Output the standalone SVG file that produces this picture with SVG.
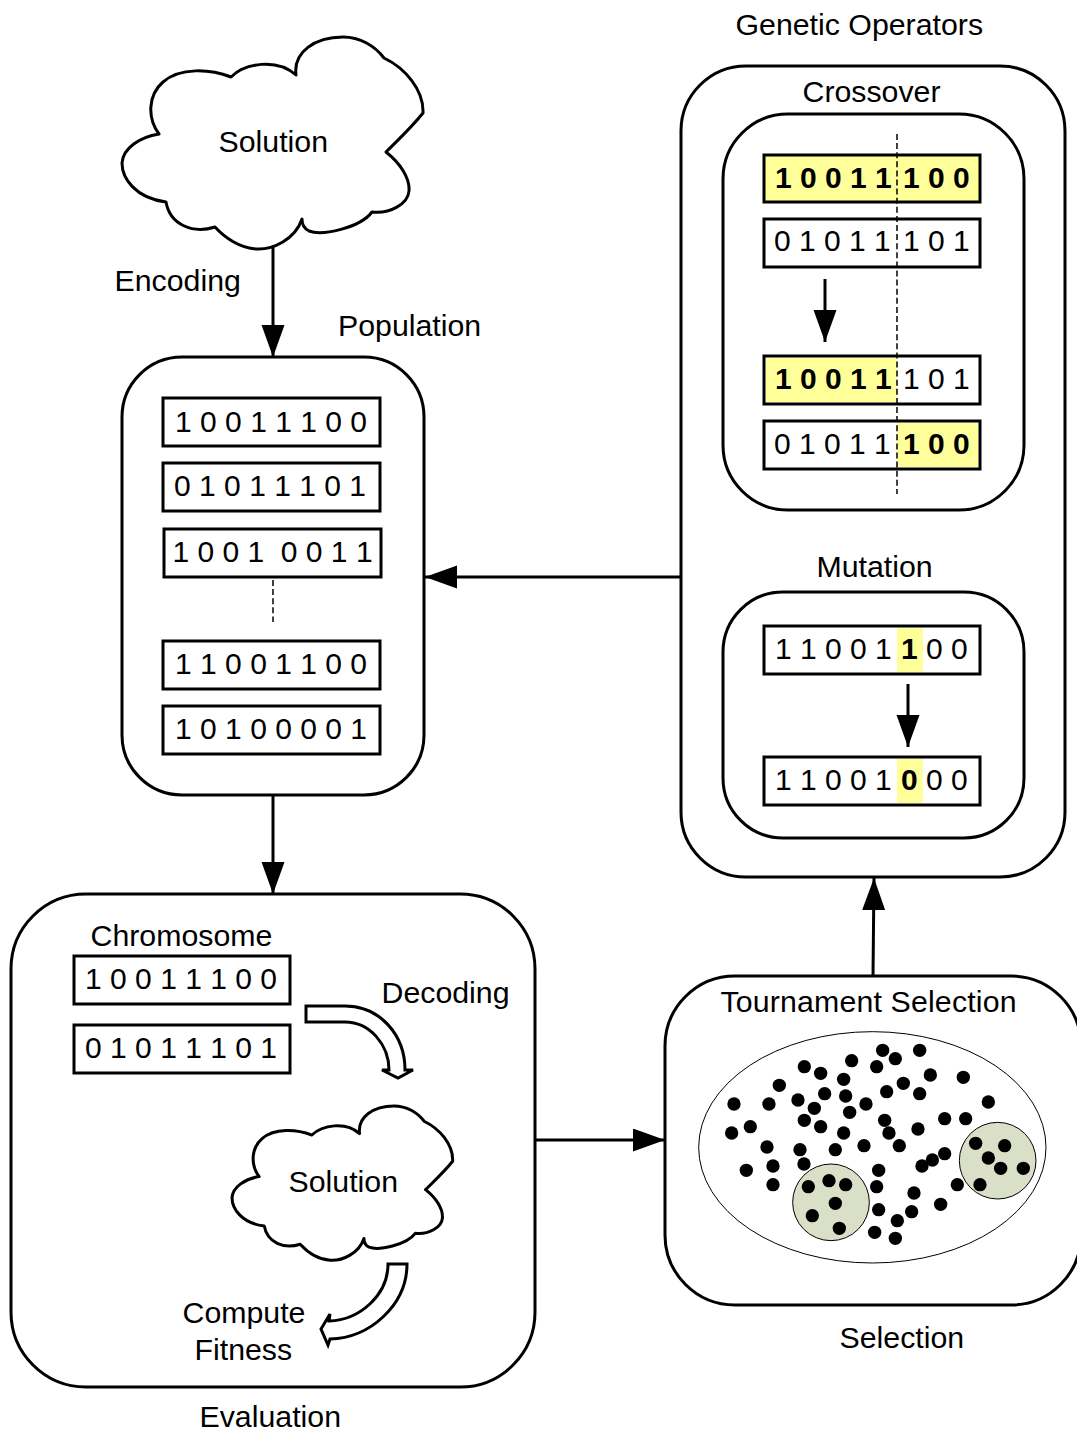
<svg xmlns="http://www.w3.org/2000/svg" width="1077" height="1434" viewBox="0 0 1077 1434">
<style>
text{font-family:"Liberation Sans",Arial,sans-serif;font-size:30px;fill:#000;white-space:pre}
.l{font-size:30.300px}
.b{font-weight:bold}
.c{text-anchor:middle}
.panel{fill:#fff;stroke:#000;stroke-width:3}
.box{fill:#fff;stroke:#000;stroke-width:3}
.hl{fill:#ffff99}
.cloud{fill:#fff;stroke:#000;stroke-width:3;stroke-linejoin:round}
.block{fill:#fff;stroke:#000;stroke-width:3;stroke-linejoin:miter}
.dash{stroke:#000;stroke-width:1.500;stroke-dasharray:6 3.100;fill:none}
.arrow{stroke:#000;stroke-width:3;fill:none;marker-end:url(#head)}
.dot{fill:#000}
.pick{fill:#dadfc8;stroke:#000;stroke-width:3}
</style>
<defs>
<marker id="head" markerUnits="userSpaceOnUse" markerWidth="34" markerHeight="26" refX="32" refY="11.500" orient="auto"><path d="M0,0L32,11.500L0,23Z" fill="#000"/></marker>
<path id="cloudShape" d="M231,77C245,63 277,58 296,75C293,52 315,37 343,37C360,37 375,46 384,58C405,68 424,90 423,113C411,128 398,140 386,152C400,163 410,178 409,191C408,204 390,214 372,212C360,228 322,236 309,231C303,228 302,224 302,219C295,240 272,250 256,249C240,248 225,238 215,227C193,234 170,225 166,202C135,198 122,178 122,163C123,148 140,137 159,134C147,118 148,95 163,82C180,67 210,69 231,77Z"/>
</defs>

<g id="connectors">
<path class="arrow" d="M273,247V357"/>
<path class="arrow" d="M273,795V894"/>
<path class="arrow" d="M681,577H425"/>
<path class="arrow" d="M533,1140H665"/>
<path class="arrow" d="M873,976L874,878"/>
</g>

<g id="solution-cloud">
<use href="#cloudShape" class="cloud"/>
<text class="l" x="218.500" y="152">Solution</text>
</g>
<text class="l" x="114.500" y="291">Encoding</text>

<g id="population">
<rect class="panel" x="122" y="357" width="302" height="438" rx="60"/>
<text class="l" x="338" y="336">Population</text>
<rect class="box" x="163" y="398" width="217" height="48"/><text class="c" x="271" y="432">1 0 0 1 1 1 0 0</text>
<rect class="box" x="163" y="463" width="217" height="48"/><text class="c" x="270" y="496">0 1 0 1 1 1 0 1</text>
<rect class="box" x="164" y="529" width="217" height="48"/><text class="c" x="272.500" y="562">1 0 0 1  0 0 1 1</text>
<path class="dash" d="M273,580V622"/>
<rect class="box" x="163" y="641" width="217" height="48"/><text class="c" x="271" y="674">1 1 0 0 1 1 0 0</text>
<rect class="box" x="163" y="706" width="217" height="48"/><text class="c" x="271" y="739">1 0 1 0 0 0 0 1</text>
</g>

<g id="evaluation">
<rect class="panel" x="11" y="894" width="524" height="493" rx="75"/>
<text class="l" x="90.500" y="946">Chromosome</text>
<rect class="box" x="74" y="956" width="216" height="48"/><text class="c" x="181" y="989">1 0 0 1 1 1 0 0</text>
<rect class="box" x="74" y="1025" width="216" height="48"/><text class="c" x="181" y="1058">0 1 0 1 1 1 0 1</text>
<text class="l" x="381.500" y="1003">Decoding</text>
<path class="block" d="M306,1006L345,1006C380,1006 405,1035 405,1070L413,1070L398,1078L382,1070L389,1070C389,1045 370,1022 345,1022L306,1022Z"/>
<g transform="translate(142.600,1079) scale(.733,.728)"><use href="#cloudShape" class="cloud" style="stroke-width:4.100"/></g>
<text class="l" x="288.500" y="1192">Solution</text>
<path class="block" d="M388,1264L407,1264C407,1305 370,1338 330,1339L328,1345L321,1329L330,1314L329,1321C360,1320 388,1295 388,1264Z"/>
<text class="l" x="182.500" y="1323">Compute</text>
<text class="l" x="194.500" y="1360">Fitness</text>
</g>
<text class="l" x="199.500" y="1427">Evaluation</text>

<g id="genetic-operators">
<text class="l" x="735.500" y="35">Genetic Operators</text>
<rect class="panel" x="681" y="66" width="384" height="811" rx="65"/>
</g>

<g id="crossover">
<text class="l" x="802.500" y="102">Crossover</text>
<rect class="panel" x="723" y="114" width="301" height="396" rx="65"/>
<rect class="box hl" x="764" y="155" width="216" height="47"/>
<text class="b" x="775" y="188">1 0 0 1 1</text><text class="b" x="903" y="188">1 0 0</text>
<rect class="box" x="764" y="219" width="216" height="48"/>
<text x="774" y="251">0 1 0 1 1</text><text x="903" y="251">1 0 1</text>
<path class="arrow" d="M825,279V342"/>
<rect class="box" x="764" y="356" width="216" height="48"/>
<rect class="hl" x="766" y="358" width="131" height="44"/>
<text class="b" x="775" y="389">1 0 0 1 1</text><text x="903" y="389">1 0 1</text>
<rect class="box" x="764" y="421" width="216" height="48"/>
<rect class="hl" x="897" y="423" width="81" height="44"/>
<text x="774" y="454">0 1 0 1 1</text><text class="b" x="903" y="454">1 0 0</text>
<path class="dash" d="M897,134V494"/>
</g>

<g id="mutation">
<text class="l" x="816.500" y="577">Mutation</text>
<rect class="panel" x="723" y="592" width="301" height="246" rx="60"/>
<rect class="box" x="764" y="626" width="216" height="48"/>
<rect class="hl" x="897" y="628" width="26" height="44"/>
<text x="775" y="659">1 1 0 0 1</text><text class="b" x="901" y="659">1</text><text x="926" y="659">0 0</text>
<path class="arrow" d="M908,684V747"/>
<rect class="box" x="764" y="757" width="216" height="48"/>
<rect class="hl" x="897" y="759" width="26" height="44"/>
<text x="775" y="790">1 1 0 0 1</text><text class="b" x="901" y="790">0</text><text x="926" y="790">0 0</text>
</g>

<g id="selection">
<rect class="panel" x="665" y="976" width="416" height="329" rx="70"/>
<text class="l" x="720.500" y="1012" textLength="296">Tournament Selection</text>
<g transform="translate(680,1020) scale(.33333)">
<ellipse cx="577" cy="382" rx="521" ry="347" fill="#fff" stroke="#000" stroke-width="3"/>
<circle class="pick" cx="453" cy="547" r="115"/>
<circle class="pick" cx="953" cy="422" r="115"/>
<g class="dot">
<circle cx="608" cy="91" r="20"/><circle cx="646" cy="116" r="20"/><circle cx="719" cy="91" r="20"/><circle cx="515" cy="122" r="20"/><circle cx="590" cy="140" r="20"/><circle cx="373" cy="140" r="20"/><circle cx="422" cy="160" r="20"/><circle cx="491" cy="178" r="20"/><circle cx="751" cy="165" r="20"/><circle cx="850" cy="172" r="20"/><circle cx="298" cy="196" r="20"/><circle cx="670" cy="190" r="20"/><circle cx="620" cy="215" r="20"/><circle cx="719" cy="221" r="20"/><circle cx="434" cy="221" r="20"/><circle cx="497" cy="228" r="20"/><circle cx="354" cy="240" r="20"/><circle cx="162" cy="252" r="20"/><circle cx="267" cy="252" r="20"/><circle cx="558" cy="252" r="20"/><circle cx="925" cy="246" r="20"/><circle cx="403" cy="265" r="20"/><circle cx="509" cy="277" r="20"/><circle cx="373" cy="301" r="20"/><circle cx="614" cy="301" r="20"/><circle cx="794" cy="296" r="20"/><circle cx="857" cy="296" r="20"/><circle cx="422" cy="320" r="20"/><circle cx="211" cy="320" r="20"/><circle cx="155" cy="339" r="20"/><circle cx="491" cy="339" r="20"/><circle cx="627" cy="339" r="20"/><circle cx="714" cy="327" r="20"/><circle cx="261" cy="381" r="20"/><circle cx="360" cy="389" r="20"/><circle cx="466" cy="389" r="20"/><circle cx="552" cy="377" r="20"/><circle cx="658" cy="377" r="20"/><circle cx="887" cy="370" r="20"/><circle cx="974" cy="377" r="20"/><circle cx="794" cy="401" r="20"/><circle cx="925" cy="414" r="20"/><circle cx="757" cy="420" r="20"/><circle cx="372" cy="432" r="20"/><circle cx="726" cy="438" r="20"/><circle cx="279" cy="438" r="20"/><circle cx="199" cy="451" r="20"/><circle cx="596" cy="451" r="20"/><circle cx="962" cy="445" r="20"/><circle cx="1030" cy="445" r="20"/><circle cx="279" cy="494" r="20"/><circle cx="385" cy="500" r="20"/><circle cx="447" cy="482" r="20"/><circle cx="497" cy="494" r="20"/><circle cx="590" cy="500" r="20"/><circle cx="832" cy="494" r="20"/><circle cx="900" cy="494" r="20"/><circle cx="702" cy="519" r="20"/><circle cx="466" cy="550" r="20"/><circle cx="782" cy="553" r="20"/><circle cx="596" cy="569" r="20"/><circle cx="695" cy="575" r="20"/><circle cx="397" cy="587" r="20"/><circle cx="652" cy="602" r="20"/><circle cx="478" cy="625" r="20"/><circle cx="584" cy="637" r="20"/><circle cx="646" cy="655" r="20"/>
</g>
</g>
<text class="l" x="839.500" y="1348">Selection</text>
</g>
</svg>
